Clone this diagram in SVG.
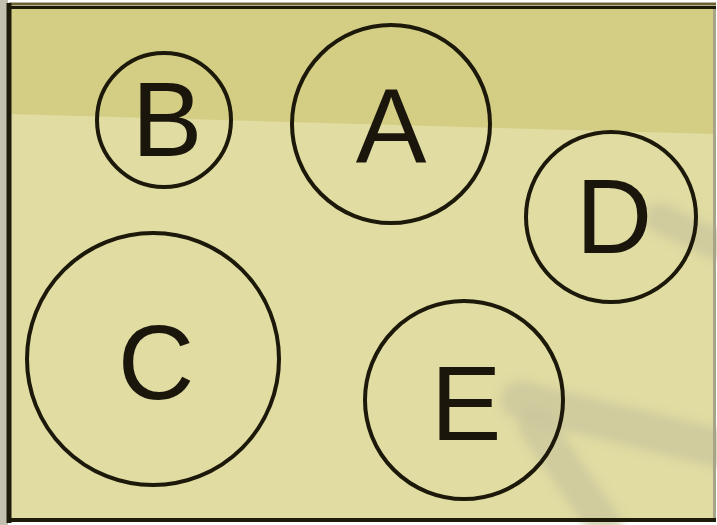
<svg xmlns="http://www.w3.org/2000/svg" width="717" height="525" viewBox="0 0 717 525">
<defs>
<style>
.node circle{fill:none;stroke:#1c180a;stroke-width:4}
.node text{font-family:"Liberation Sans",Arial,sans-serif;font-size:106px;fill:#1a160c;text-anchor:middle}
.shade{stroke:#c9c49c;stroke-linecap:round;fill:none;opacity:0.7}
</style>
<filter id="blur" x="-20%" y="-20%" width="140%" height="140%"><feGaussianBlur stdDeviation="5"/></filter>
</defs>
<rect x="0" y="0" width="717" height="525" fill="#ffffff"/>
<rect x="0" y="0" width="8" height="525" fill="#c4c0b0"/>
<rect x="8" y="6" width="708" height="515" fill="#e0dca2"/>
<polygon points="10,9 714,9 714,134 10,114" fill="#d4ce84"/>
<g filter="url(#blur)">
<line class="shade" x1="520" y1="400" x2="717" y2="448" stroke-width="38"/>
<line class="shade" x1="535" y1="425" x2="605" y2="525" stroke-width="34"/>
<line class="shade" x1="660" y1="218" x2="717" y2="245" stroke-width="30"/>
</g>
<g id="connectors"></g>
<g id="node-B" class="node"><circle cx="164" cy="120" r="67"/><text x="167" y="156">B</text></g>
<g id="node-A" class="node"><circle cx="391" cy="124" r="99"/><text x="391" y="162">A</text></g>
<g id="node-D" class="node"><circle cx="611" cy="217" r="85"/><text x="614" y="253">D</text></g>
<g id="node-C" class="node"><circle cx="153" cy="359" r="126"/><text x="156" y="399">C</text></g>
<g id="node-E" class="node"><circle cx="464" cy="400" r="99"/><text x="466" y="440">E</text></g>
<line x1="9" y1="4" x2="716" y2="4" stroke="#6b6432" stroke-width="3"/>
<line x1="9" y1="7.5" x2="716" y2="7.5" stroke="#1e1a0a" stroke-width="3"/>
<line x1="9" y1="3" x2="9" y2="523" stroke="#1e1a0a" stroke-width="5"/>
<line x1="7" y1="520" x2="716" y2="520" stroke="#1e1a0a" stroke-width="4"/>
<line x1="714.5" y1="9" x2="714.5" y2="518" stroke="#a8a48a" stroke-width="3"/>
</svg>
